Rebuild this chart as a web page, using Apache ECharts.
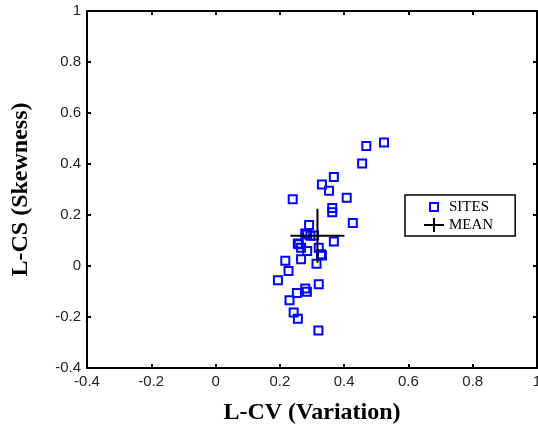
<!DOCTYPE html>
<html><head><meta charset="utf-8">
<script src="https://cdn.jsdelivr.net/npm/echarts@6/dist/echarts.min.js"></script>
<style>html,body{margin:0;padding:0;background:#fff}#c{width:538px;height:425px}</style>
</head><body><div id="c"></div>
<script>
// L-moment ratios of the sites
const siteLCV = [0.524,0.469,0.456,0.368,0.331,0.353,0.408,0.240,0.363,0.363,0.427,0.291,0.279,0.295,0.285,0.306,0.368,0.256,0.266,0.259,0.285,0.321,0.328,0.331,0.266,0.314,0.217,0.227,0.194,0.321,0.279,0.284,0.253,0.230,0.243,0.256,0.320];
const siteLCS = [0.484,0.471,0.402,0.349,0.320,0.295,0.268,0.262,0.227,0.211,0.169,0.161,0.127,0.119,0.124,0.120,0.096,0.088,0.072,0.085,0.059,0.072,0.046,0.041,0.026,0.009,0.021,-0.020,-0.056,-0.072,-0.088,-0.101,-0.106,-0.134,-0.182,-0.207,-0.253];
const meanLCV = [0.317];
const meanLCS = [0.119];
const xTicks = [-0.4,-0.2,0,0.2,0.4,0.6,0.8,1];
const yTicks = [-0.4,-0.2,0,0.2,0.4,0.6,0.8,1];
const seriesNames = ['SITES','MEAN'];
const xTitle = 'L-CV (Variation)';
const yTitle = 'L-CS (Skewness)';

const chart = echarts.init(document.getElementById('c'), null, {renderer:'canvas'});
const lineStyle = {color:'#000', width:2};
const labelStyle = {color:'#222', fontFamily:'Liberation Sans, Arial, sans-serif', fontSize:15};
const fmtX = v => { const t = xTicks.find(k => Math.abs(k - v) < 1e-9); return String(t !== undefined ? t : v); };
const fmtY = v => { const t = yTicks.find(k => Math.abs(k - v) < 1e-9); return String(t !== undefined ? t : v); };
function axis(extra){
  return Object.assign({
    type:'value', min:-0.4, max:1, interval:0.2,
    axisLine:{show:true, onZero:false, lineStyle},
    axisTick:{show:true, inside:true, length:4, lineStyle:{color:'#000', width:2}},
    splitLine:{show:false}
  }, extra);
}
const titleStyle = {color:'#000', fontFamily:'Liberation Serif, Times New Roman, serif', fontWeight:'bold', fontSize:24};
chart.setOption({
  animation:false,
  grid:{left:87, right:1, top:11, bottom:57, containLabel:false, outerBoundsMode:'none'},
  xAxis:[
    axis({position:'bottom', name:xTitle, nameLocation:'middle', nameGap:33, nameTextStyle:titleStyle,
      axisLabel:Object.assign({margin:6, showMinLabel:true, showMaxLabel:true, hideOverlap:false, formatter:fmtX}, labelStyle)}),
    axis({position:'top', axisLabel:{show:false}})
  ],
  yAxis:[
    axis({position:'left', name:yTitle, nameLocation:'middle', nameGap:54, nameRotate:90, nameTextStyle:titleStyle,
      axisLabel:Object.assign({margin:6, showMinLabel:true, showMaxLabel:true, hideOverlap:false, formatter:fmtY}, labelStyle)}),
    axis({position:'right', axisLabel:{show:false}})
  ],
  legend:{
    left:405, top:195, orient:'vertical',
    padding:[4,22,3,18], itemGap:2, itemWidth:20, itemHeight:14,
    borderColor:'#000', borderWidth:1.5, backgroundColor:'#fff',
    textStyle:{color:'#000', fontFamily:'Liberation Serif, Times New Roman, serif', fontSize:15, lineHeight:14, padding:0},
    selectedMode:false,
    data:[
      {name:seriesNames[0], icon:'path://M0,0 M6,3 L14,3 L14,11 L6,11 Z M20,14'},
      {name:seriesNames[1], icon:'path://M0,7 L20,7 M10,0 L10,14'}
    ]
  },
  series:[
    {name:seriesNames[0], type:'scatter', xAxisIndex:0, yAxisIndex:0, symbol:'rect', symbolSize:8,
     itemStyle:{color:'rgba(0,0,0,0)', borderColor:'#0000ff', borderWidth:2, opacity:1},
     data: siteLCV.map((x,i)=>[x, siteLCS[i]]), z:2},
    {name:seriesNames[1], type:'scatter', xAxisIndex:0, yAxisIndex:0,
     symbol:'path://M0,10 L20,10 M10,0 L10,20', symbolSize:[54,54],
     itemStyle:{color:'rgba(0,0,0,0)', borderColor:'#000', borderWidth:2, opacity:1},
     data: meanLCV.map((x,i)=>[x, meanLCS[i]]), z:3}
  ]
});
</script></body></html>
